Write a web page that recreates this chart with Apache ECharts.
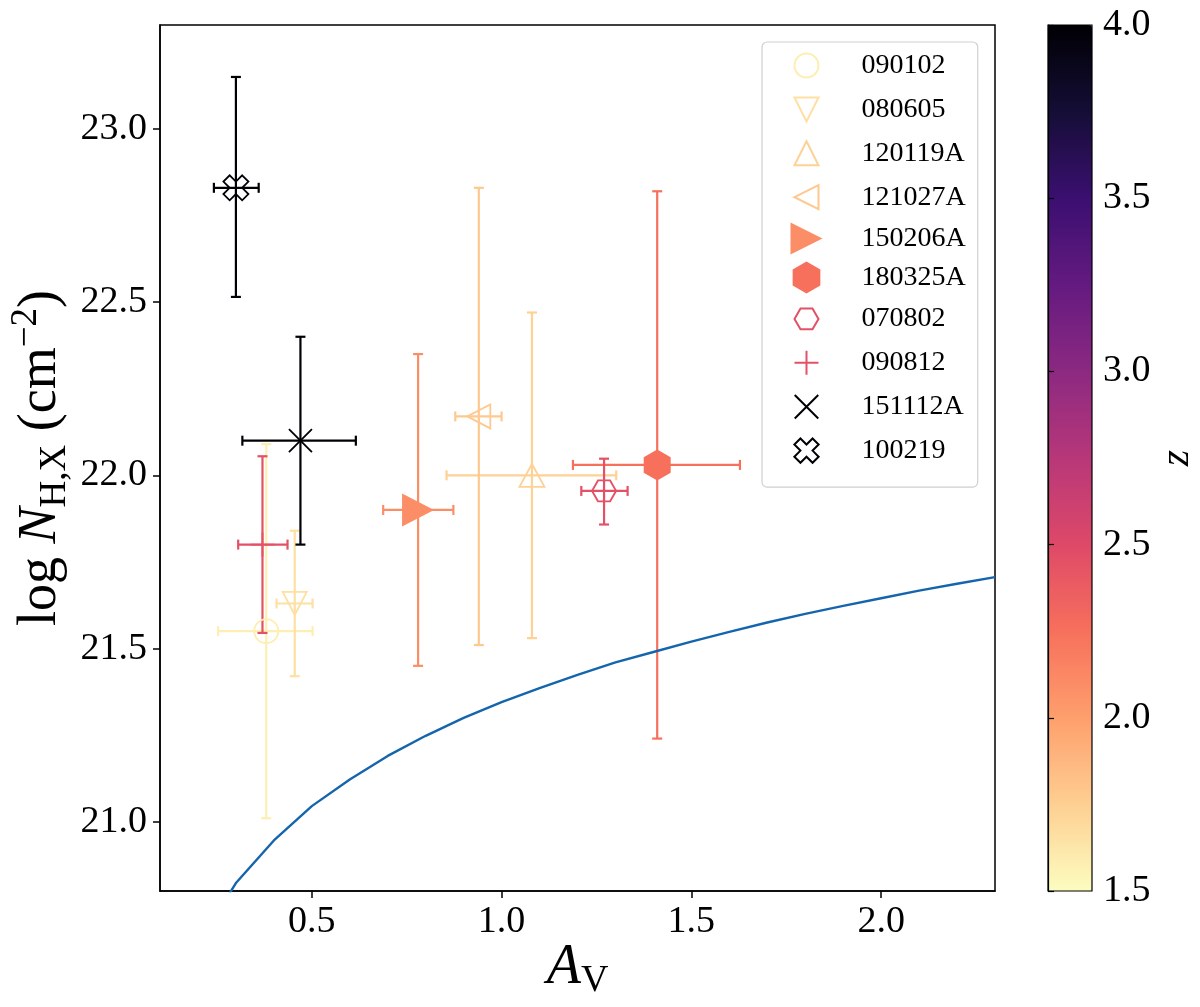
<!DOCTYPE html>
<html>
<head>
<meta charset="utf-8">
<script src="https://cdn.jsdelivr.net/npm/echarts@6/dist/echarts.min.js"></script>
<style>
html,body{margin:0;padding:0;background:#fff;}
#chart{width:1200px;height:1007px;}
</style>
</head>
<body>
<div id="chart"></div>
<script>
// ---------- data ----------
const grbNames   = ['090102','080605','120119A','121027A','150206A','180325A','070802','090812','151112A','100219'];
const avValues   = [0.38, 0.455, 1.08, 0.94, 0.78, 1.41, 1.27, 0.37, 0.47, 0.30];
const avErrLow   = [0.127, 0.048, 0.225, 0.062, 0.092, 0.222, 0.06, 0.064, 0.153, 0.058];
const avErrHigh  = [0.122, 0.047, 0.222, 0.060, 0.093, 0.218, 0.062, 0.066, 0.146, 0.060];
const nhValues   = [21.55, 21.63, 22.00, 22.17, 21.90, 22.03, 21.955, 21.80, 22.10, 22.83];
const nhErrLow   = [0.54, 0.21, 0.47, 0.66, 0.45, 0.79, 0.097, 0.255, 0.30, 0.315];
const nhErrHigh  = [0.54, 0.21, 0.47, 0.66, 0.45, 0.79, 0.093, 0.255, 0.30, 0.32];
const redshifts  = [1.58, 1.66, 1.74, 1.78, 2.09, 2.25, 2.45, 2.45, 4.1, 4.667];

const curveAv = [0.2, 0.3, 0.4, 0.5, 0.6, 0.7, 0.8, 0.9, 1.0, 1.1, 1.2, 1.3, 1.4, 1.5, 1.6, 1.7, 1.8, 1.9, 2.0, 2.1, 2.2, 2.3];
const curveNh = [20.645, 20.823, 20.946, 21.045, 21.122, 21.19, 21.248, 21.30, 21.345, 21.386, 21.424, 21.46, 21.49, 21.52, 21.548, 21.575, 21.60, 21.623, 21.645, 21.667, 21.687, 21.706];

const xTicks = [0.5, 1.0, 1.5, 2.0];
const yTicks = [21.0, 21.5, 22.0, 22.5, 23.0];
const zRange = [1.5, 4.0];

// ---------- styling ----------
const FONT = 'Liberation Serif';
const magma = ['#000004','#140e36','#3b0f70','#641a80','#8c2981','#b73779','#de4968','#f7705c','#fe9f6d','#fecf92','#fcfdbf'];
const magmaR = magma.slice().reverse();
function hex2rgb(h){return [parseInt(h.substr(1,2),16),parseInt(h.substr(3,2),16),parseInt(h.substr(5,2),16)];}
function cmap(z){
  let t = (z - zRange[0]) / (zRange[1] - zRange[0]);
  t = Math.max(0, Math.min(1, t));
  const p = t * (magmaR.length - 1);
  const i = Math.min(Math.floor(p), magmaR.length - 2);
  const f = p - i;
  const a = hex2rgb(magmaR[i]), b = hex2rgb(magmaR[i+1]);
  const c = a.map((v,k)=>Math.round(v + (b[k]-v)*f));
  return 'rgb(' + c.join(',') + ')';
}
const grbColors = redshifts.map(cmap);

const SHAPE = {
  circle: 'M0,1A1,1,0,1,1,2,1A1,1,0,1,1,0,1Z',
  triDown: 'M0,0L2,0L1,2Z',
  triUp: 'M1,0L2,2L0,2Z',
  triLeft: 'M0,1L2,0L2,2Z',
  triRight: 'M0,0L2,1L0,2Z',
  hexPointy: 'M0.866,0L1.732,0.5L1.732,1.5L0.866,2L0,1.5L0,0.5Z',
  hexFlat: 'M0,0.866L0.5,0L1.5,0L2,0.866L1.5,1.732L0.5,1.732Z',
  plus: 'M1,0L1,2M0,1L2,1',
  cross: 'M0,0L2,2M2,0L0,2',
  xFilled: 'M4.243,0L5.657,1.414L4.243,2.828L5.657,4.243L4.243,5.657L2.828,4.243L1.414,5.657L0,4.243L1.414,2.828L0,1.414L1.414,0L2.828,1.414Z'
};
// shape, plot symbol size, filled, legend icon bbox [x0,y0,x1,y1] (padding so icons keep relative size)
const markerStyles = [
  ['circle',    24,      false, [-0.333,-0.333,2.333,2.333]],
  ['triDown',   [24,23], false, [-0.333,-0.333,2.333,2.333]],
  ['triUp',     [25,23], false, [-0.333,-0.333,2.333,2.333]],
  ['triLeft',   [23,24], false, [-0.333,-0.333,2.333,2.333]],
  ['triRight',  [32,33], true,  null],
  ['hexPointy', [27,31], true,  null],
  ['hexFlat',   [24,21], false, [-0.333,-0.467,2.333,2.2]],
  ['plus',      24,      false, [-0.333,-0.333,2.333,2.333]],
  ['cross',     23,      false, [-0.36,-0.36,2.36,2.36]],
  ['xFilled',   25,      false, [-0.9,-0.9,6.557,6.557]]
];
function legendIcon(ms){
  const s = SHAPE[ms[0]];
  if (!ms[3]) return 'path://' + s;
  const b = ms[3];
  return 'path://M' + b[0] + ',' + b[1] + 'M' + b[2] + ',' + b[3] + s;
}

const errData = grbNames.map((n,i)=>[avValues[i], nhValues[i], avErrLow[i], avErrHigh[i], nhErrLow[i], nhErrHigh[i], i]);

function renderErr(params, api){
  const i = api.value(6);
  const x = api.value(0), y = api.value(1);
  const l = api.coord([x - api.value(2), y]);
  const r = api.coord([x + api.value(3), y]);
  const b = api.coord([x, y - api.value(4)]);
  const t = api.coord([x, y + api.value(5)]);
  const cap = 5;
  const style = {stroke: grbColors[i], lineWidth: 2.2, fill: null};
  const ln = (x1,y1,x2,y2)=>({type:'line', shape:{x1,y1,x2,y2}, style});
  return {type:'group', children:[
    ln(l[0],l[1],r[0],r[1]),
    ln(t[0],t[1],b[0],b[1]),
    ln(l[0],l[1]-cap,l[0],l[1]+cap),
    ln(r[0],r[1]-cap,r[0],r[1]+cap),
    ln(t[0]-cap,t[1],t[0]+cap,t[1]),
    ln(b[0]-cap,b[1],b[0]+cap,b[1])
  ]};
}

const series = [];
series.push({
  type:'custom', name:'errors', xAxisIndex:0, yAxisIndex:0,
  renderItem: renderErr, data: errData,
  encode:{x:0, y:1}, silent:true, z:2
});
series.push({
  type:'line', name:'curve', xAxisIndex:0, yAxisIndex:0,
  data: curveAv.map((a,i)=>[a, curveNh[i]]),
  showSymbol:false, symbol:'none', clip:true, silent:true,
  lineStyle:{color:'#1565ad', width:2.4}, z:3
});
grbNames.forEach((n,i)=>{
  const ms = markerStyles[i];
  const filled = ms[2];
  series.push({
    type:'scatter', name:n, xAxisIndex:0, yAxisIndex:0,
    data:[[avValues[i], nhValues[i]]],
    symbol: 'path://' + SHAPE[ms[0]], symbolSize: ms[1], silent:true, z:4,
    itemStyle: filled ? {color: grbColors[i], borderWidth:0, opacity:1}
                      : {color:'none', borderColor: grbColors[i], borderWidth:1.8, opacity:1}
  });
});
series.push({type:'scatter', name:'dummy', xAxisIndex:1, yAxisIndex:1, data:[], silent:true});
const dummyIndex = series.length - 1;

const option = {
  animation:false,
  backgroundColor:'#fff',
  grid:[
    {left:160, top:25, width:835, height:866, show:true, borderColor:'#000', borderWidth:1.5, backgroundColor:'transparent', z:1, containLabel:false, outerBoundsMode:'none'},
    {left:1048, top:25, width:44, height:866, show:true, borderColor:'#000', borderWidth:1.2, backgroundColor:'transparent', z:10, containLabel:false, outerBoundsMode:'none'}
  ],
  xAxis:[
    {gridIndex:0, type:'value', min:0.1, max:2.3,
     splitLine:{show:false},
     axisLine:{show:true, onZero:false, lineStyle:{color:'#000', width:1.5}},
     axisTick:{show:true, inside:false, length:7, lineStyle:{color:'#000', width:1.5}, customValues:xTicks},
     axisLabel:{show:true, margin:12, fontFamily:FONT, fontSize:38, color:'#000', customValues:xTicks, formatter:v=>v.toFixed(1)},
     name:'{i|A}{s|V}', nameLocation:'middle', nameGap:45, nameMoveOverlap:false,
     nameTextStyle:{rich:{
       i:{fontFamily:FONT, fontStyle:'italic', fontSize:56, color:'#000', lineHeight:64},
       s:{fontFamily:FONT, fontSize:38, color:'#000', verticalAlign:'bottom', lineHeight:34}
     }}
    },
    {gridIndex:1, type:'value', show:false, min:0, max:1}
  ],
  yAxis:[
    {gridIndex:0, type:'value', min:20.8, max:23.3,
     splitLine:{show:false},
     axisLine:{show:true, onZero:false, lineStyle:{color:'#000', width:1.5}},
     axisTick:{show:true, inside:false, length:7, lineStyle:{color:'#000', width:1.5}, customValues:yTicks},
     axisLabel:{show:true, margin:13, fontFamily:FONT, fontSize:38, color:'#000', customValues:yTicks, formatter:v=>v.toFixed(1)},
     name:'{n|log }{i|N}{s|H,X}{n| (cm}{p|−2}{n|)}', nameLocation:'middle', nameRotate:90, nameGap:86, nameMoveOverlap:false,
     nameTextStyle:{rich:{
       n:{fontFamily:FONT, fontSize:54, color:'#000', lineHeight:66},
       i:{fontFamily:FONT, fontStyle:'italic', fontSize:54, color:'#000', lineHeight:66},
       s:{fontFamily:FONT, fontSize:37, color:'#000', verticalAlign:'bottom', lineHeight:35},
       p:{fontFamily:FONT, fontSize:37, color:'#000', verticalAlign:'top', lineHeight:31}
     }}
    },
    {gridIndex:1, type:'value', position:'right', min:zRange[0], max:zRange[1], interval:0.5, z:10,
     splitLine:{show:false},
     axisLine:{show:true, lineStyle:{color:'#000', width:1.2}},
     axisTick:{show:true, inside:false, length:6, lineStyle:{color:'#000', width:1.2}},
     axisLabel:{show:true, margin:11, fontFamily:FONT, fontSize:38, color:'#000', formatter:v=>v.toFixed(1)},
     name:'z', nameLocation:'middle', nameRotate:90, nameGap:64, nameMoveOverlap:false,
     nameTextStyle:{fontFamily:FONT, fontStyle:'italic', fontSize:42, color:'#000'}
    }
  ],
  visualMap:{
    type:'continuous', min:zRange[0], max:zRange[1], orient:'vertical',
    left:1048, top:25, itemWidth:44, itemHeight:866, padding:0,
    calculable:false, hoverLink:false, text:null, showLabel:false,
    inRange:{color: magmaR}, seriesIndex:[dummyIndex]
  },
  legend:{
    orient:'vertical', left:762, top:42,
    padding:[5, 12, 18, 26],
    itemWidth:32, itemHeight:32, itemGap:6.9,
    backgroundColor:'rgba(255,255,255,0.85)', borderColor:'#d0d0d0', borderWidth:1.2, borderRadius:5,
    data: grbNames.map((n,i)=>({name:n, icon: legendIcon(markerStyles[i])})),
    selectedMode:false,
    formatter:'{g| }{t|{name}}',
    textStyle:{fontFamily:FONT, fontSize:28, color:'#000', lineHeight:32,
      rich:{g:{width:34, lineHeight:32}, t:{fontFamily:FONT, fontSize:28, color:'#000', lineHeight:32}}}
  },
  series: series
};

const chart = echarts.init(document.getElementById('chart'), null, {renderer:'canvas'});
chart.setOption(option);
</script>
</body>
</html>
